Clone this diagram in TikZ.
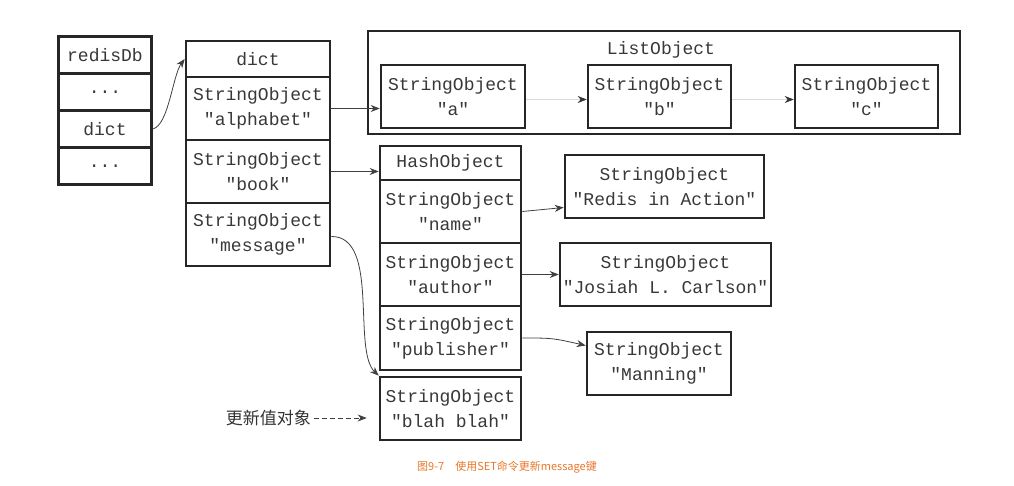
\documentclass[tikz,border=0pt]{standalone}
\usepackage{fontspec}
\setmonofont{Liberation Mono}
\newfontfamily\cjkfont{Noto Sans CJK SC}
\usetikzlibrary{arrows.meta}
\definecolor{capcolor}{RGB}{232,118,40}

\begin{document}
\begin{tikzpicture}[x=1pt,y=-1pt]
\tikzstyle{every node}+=[inner sep=0pt]
\tikzstyle{cell}=[draw=black!85,line width=2.6pt,align=center,text=black!78,font=\ttfamily\fontsize{18}{25}\selectfont]
\tikzstyle{ptr}=[draw=black!75,line width=0.8pt,-{Stealth[length=9pt,width=7pt]}]
\tikzstyle{faint}=[draw=black!15,line width=0.6pt,-{Stealth[length=9pt,width=7pt,color=black!80]}]
\useasboundingbox (0,0) rectangle (1014,486);
% redisDb
\node[cell,minimum width=93pt,minimum height=37pt] (db) at (105,55) {redisDb};
\node[cell,minimum width=93pt,minimum height=37pt] (db1) at (105,92) {...};
\node[cell,minimum width=93pt,minimum height=37pt] (dbdict) at (105,129) {dict};
\node[cell,minimum width=93pt,minimum height=37pt] (db2) at (105,166) {...};
% dict
\node[cell,minimum width=144pt,minimum height=36pt] (dict) at (258,59) {dict};
\node[cell,minimum width=144pt,minimum height=63pt] (alpha) at (258,108.5) {StringObject\\"alphabet"};
\node[cell,minimum width=144pt,minimum height=63pt] (book) at (258,171.5) {StringObject\\"book"};
\node[cell,minimum width=144pt,minimum height=63pt] (msg) at (258,234.5) {StringObject\\"message"};
% ListObject
\node[cell,minimum width=592pt,minimum height=103pt] (list) at (664,82.5) {};
\node[text=black!78,font=\ttfamily\fontsize{18}{25}\selectfont] (listlbl) at (661,50) {ListObject};
\node[cell,minimum width=144pt,minimum height=63pt] (la) at (453,96.5) {StringObject\\"a"};
\node[cell,minimum width=143pt,minimum height=63pt] (lb) at (659.5,96.5) {StringObject\\"b"};
\node[cell,minimum width=143pt,minimum height=63pt] (lc) at (866.5,96.5) {StringObject\\"c"};
% HashObject
\node[cell,minimum width=141pt,minimum height=34pt] (hash) at (450.5,163) {HashObject};
\node[cell,minimum width=141pt,minimum height=63pt] (hname) at (450.5,211.5) {StringObject\\"name"};
\node[cell,minimum width=141pt,minimum height=63pt] (hauthor) at (450.5,274.5) {StringObject\\"author"};
\node[cell,minimum width=141pt,minimum height=64pt] (hpub) at (450.5,338) {StringObject\\"publisher"};
\node[cell,minimum width=141pt,minimum height=63pt] (blah) at (450.5,408.5) {StringObject\\"blah blah"};
% values
\node[cell,minimum width=199pt,minimum height=63pt] (redis) at (664.5,186.5) {StringObject\\"Redis in Action"};
\node[cell,minimum width=211pt,minimum height=63pt] (josiah) at (665.5,274.5) {StringObject\\"Josiah L. Carlson"};
\node[cell,minimum width=144pt,minimum height=63pt] (manning) at (659,363.5) {StringObject\\"Manning"};
% labels
\node[anchor=east,text=black!80,font=\cjkfont\fontsize{17}{17}\selectfont] (newval) at (311,418) {更新值对象};
\node[text=capcolor,font=\cjkfont\fontsize{11}{11}\selectfont] (cap) at (507,467) {图9-7\quad 使用SET命令更新message键};
% pointers
\draw[ptr] (dbdict.east) .. controls +(16,-4) and +(-12,16) .. (dict.west);
\draw[ptr] (alpha.east) -- (alpha.east -| la.west);
\draw[faint] ([yshift=-3pt]la.east) -- ([yshift=-3pt]lb.west);
\draw[faint] ([yshift=-3pt]lb.east) -- ([yshift=-3pt]lc.west);
\draw[ptr] (book.east) -- (book.east -| hash.west);
\draw[ptr] (hname.east) -- ([yshift=-21pt]redis.west);
\draw[ptr] (hauthor.east) -- (josiah.west);
\draw[ptr] (hpub.east) .. controls +(30,0) .. ([yshift=18pt]manning.west);
\draw[ptr] ([yshift=-2pt]msg.east) .. controls (380,236) and (352,350) .. (blah.north west);
\draw[ptr,dashed,dash pattern=on 5pt off 3pt] ([xshift=3pt]newval.east) -- ([xshift=-12pt]blah.west |- newval.east);
\end{tikzpicture}
\end{document}
